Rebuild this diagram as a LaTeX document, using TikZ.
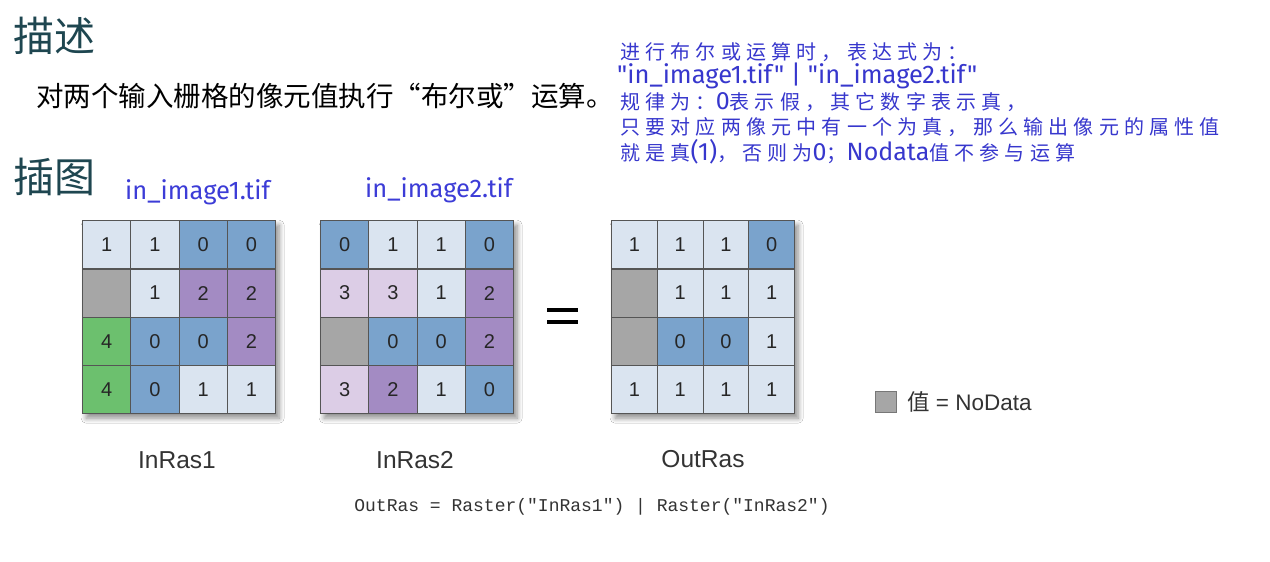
\documentclass[tikz,border=0pt]{standalone}
\usepackage{fontspec}
\setmainfont{Liberation Sans}
\newfontfamily\cjk{Noto Sans CJK SC}
\newfontfamily\cjkann[LetterSpace=26]{Noto Sans CJK SC}
\newfontfamily\latinann{Fira Sans}
\newfontfamily\codefont{Liberation Mono}
\usetikzlibrary{shadows.blur}
\definecolor{cL}{RGB}{218,228,240}
\definecolor{cB}{RGB}{122,163,204}
\definecolor{cP}{RGB}{163,139,195}
\definecolor{cQ}{RGB}{220,205,230}
\definecolor{cG}{RGB}{108,192,110}
\definecolor{cN}{RGB}{166,166,166}
\definecolor{title}{RGB}{30,70,80}
\definecolor{ann}{RGB}{55,55,205}
\definecolor{lbl}{RGB}{60,60,215}
\definecolor{edge}{RGB}{85,85,85}
\newcommand\lat[1]{{\latinann\fontsize{25}{25}\selectfont #1}}
\tikzset{
  cell/.style={draw=edge, line width=1.2pt, minimum width=48pt, minimum height=48.3pt, inner sep=0pt, font=\fontsize{20}{20}\selectfont, text=black!85},
  gridshadow/.style={fill=white, blur shadow={shadow xshift=4pt, shadow yshift=-5pt, shadow blur steps=8, shadow blur radius=5pt, shadow opacity=45}},
  heading/.style={anchor=west, text=title, font=\cjk\fontsize{41}{41}\selectfont, inner sep=0pt},
  annline/.style={anchor=west, text=ann, inner sep=0pt, font=\cjkann\fontsize{20}{20}\selectfont},
  rasname/.style={text=black!80, font=\fontsize{24.5}{24.5}\selectfont, inner sep=0pt},
  filelbl/.style={anchor=west, text=lbl, font=\latinann\fontsize{25.5}{25.5}\selectfont, inner sep=0pt}
}
\newcommand\gridcell[6]{% name, x, y, w, color, value
  \node[cell, fill=#5, minimum width=#4pt, anchor=north west] (#1) at (#2,#3) {#6};}
\begin{document}
\begin{tikzpicture}[x=1pt,y=-1pt]
\useasboundingbox (0,0) rectangle (1270,562);
\fill[white] (0,0) rectangle (1270,562);

% headings and description
\node[heading] (h1) at (13,36) {描述};
\node[heading] (h2) at (13,177) {插图};
\node[anchor=west, inner sep=0pt, font=\cjk\fontsize{27.5}{27.5}\selectfont] (desc) at (36,96) {对两个输入栅格的像元值执行“布尔或”运算。};

% annotation
\node[annline] (a1) at (620,52) {进行布尔或运算时，表达式为：};
\node[anchor=west, inner sep=0pt, text=ann, font=\latinann\fontsize{25.5}{25.5}\selectfont] (a2) at (617,76) {"in\_image1.tif" | "in\_image2.tif"};
\node[annline] (a3) at (620,102) {规律为：\lat{0}表示假，其它数字表示真，};
\node[annline] (a4) at (620,127) {只要对应两像元中有一个为真，那么输出像元的属性值};
\node[annline] (a5) at (620,152) {就是真\lat{(1)}，否则为\lat{0}；\lat{Nodata}值不参与运算};

\node[filelbl] (f1) at (125,192) {in\_image1.tif};
\node[filelbl] (f2) at (365,190) {in\_image2.tif};

% grid shadows
\node[gridshadow, minimum width=193pt, minimum height=193pt, inner sep=0pt, anchor=north west] (s1) at (82,220) {};
\node[gridshadow, minimum width=193pt, minimum height=193pt, inner sep=0pt, anchor=north west] (s2) at (320,220) {};
\node[gridshadow, minimum width=183pt, minimum height=193pt, inner sep=0pt, anchor=north west] (s3) at (611,220) {};

% InRas1
\gridcell{ga11}{82}{220}{48.25}{cL}{1}
\gridcell{ga12}{130.25}{220}{48.25}{cL}{1}
\gridcell{ga13}{178.5}{220}{48.25}{cB}{0}
\gridcell{ga14}{226.75}{220}{48.25}{cB}{0}
\gridcell{ga21}{82}{268.3}{48.25}{cN}{}
\gridcell{ga22}{130.25}{268.3}{48.25}{cL}{1}
\gridcell{ga23}{178.5}{268.3}{48.25}{cP}{2}
\gridcell{ga24}{226.75}{268.3}{48.25}{cP}{2}
\gridcell{ga31}{82}{316.6}{48.25}{cG}{4}
\gridcell{ga32}{130.25}{316.6}{48.25}{cB}{0}
\gridcell{ga33}{178.5}{316.6}{48.25}{cB}{0}
\gridcell{ga34}{226.75}{316.6}{48.25}{cP}{2}
\gridcell{ga41}{82}{364.9}{48.25}{cG}{4}
\gridcell{ga42}{130.25}{364.9}{48.25}{cB}{0}
\gridcell{ga43}{178.5}{364.9}{48.25}{cL}{1}
\gridcell{ga44}{226.75}{364.9}{48.25}{cL}{1}
% InRas2
\gridcell{gb11}{320}{220}{48.25}{cB}{0}
\gridcell{gb12}{368.25}{220}{48.25}{cL}{1}
\gridcell{gb13}{416.5}{220}{48.25}{cL}{1}
\gridcell{gb14}{464.75}{220}{48.25}{cB}{0}
\gridcell{gb21}{320}{268.3}{48.25}{cQ}{3}
\gridcell{gb22}{368.25}{268.3}{48.25}{cQ}{3}
\gridcell{gb23}{416.5}{268.3}{48.25}{cL}{1}
\gridcell{gb24}{464.75}{268.3}{48.25}{cP}{2}
\gridcell{gb31}{320}{316.6}{48.25}{cN}{}
\gridcell{gb32}{368.25}{316.6}{48.25}{cB}{0}
\gridcell{gb33}{416.5}{316.6}{48.25}{cB}{0}
\gridcell{gb34}{464.75}{316.6}{48.25}{cP}{2}
\gridcell{gb41}{320}{364.9}{48.25}{cQ}{3}
\gridcell{gb42}{368.25}{364.9}{48.25}{cP}{2}
\gridcell{gb43}{416.5}{364.9}{48.25}{cL}{1}
\gridcell{gb44}{464.75}{364.9}{48.25}{cB}{0}
% OutRas
\gridcell{gc11}{611}{220}{45.75}{cL}{1}
\gridcell{gc12}{656.75}{220}{45.75}{cL}{1}
\gridcell{gc13}{702.5}{220}{45.75}{cL}{1}
\gridcell{gc14}{748.25}{220}{45.75}{cB}{0}
\gridcell{gc21}{611}{268.3}{45.75}{cN}{}
\gridcell{gc22}{656.75}{268.3}{45.75}{cL}{1}
\gridcell{gc23}{702.5}{268.3}{45.75}{cL}{1}
\gridcell{gc24}{748.25}{268.3}{45.75}{cL}{1}
\gridcell{gc31}{611}{316.6}{45.75}{cN}{}
\gridcell{gc32}{656.75}{316.6}{45.75}{cB}{0}
\gridcell{gc33}{702.5}{316.6}{45.75}{cB}{0}
\gridcell{gc34}{748.25}{316.6}{45.75}{cL}{1}
\gridcell{gc41}{611}{364.9}{45.75}{cL}{1}
\gridcell{gc42}{656.75}{364.9}{45.75}{cL}{1}
\gridcell{gc43}{702.5}{364.9}{45.75}{cL}{1}
\gridcell{gc44}{748.25}{364.9}{45.75}{cL}{1}

% equals sign
\node[inner sep=0pt] (eq) at (562,316) {\tikz[x=1pt,y=-1pt]{\fill[black] (0,0) rectangle (31,4.5); \fill[black] (0,12) rectangle (31,16.5);}};

% raster names
\node[rasname] (n1) at (177,460) {InRas1};
\node[rasname] (n2) at (415,460) {InRas2};
\node[rasname] (n3) at (703,459) {OutRas};

% legend
\node[draw=edge!80, fill=cN, line width=1pt, minimum width=21pt, minimum height=21pt, inner sep=0pt] (lg) at (886,402) {};
\node[anchor=west, inner sep=0pt, text=black!80, font=\fontsize{22.5}{22.5}\selectfont] (lgt) at (907,402) {{\cjk 值} = NoData};

% code
\node[inner sep=0pt, text=black!80, font=\codefont\fontsize{18}{18}\selectfont] (code) at (592,507) {OutRas = Raster("InRas1") | Raster("InRas2")};
\end{tikzpicture}
\end{document}
